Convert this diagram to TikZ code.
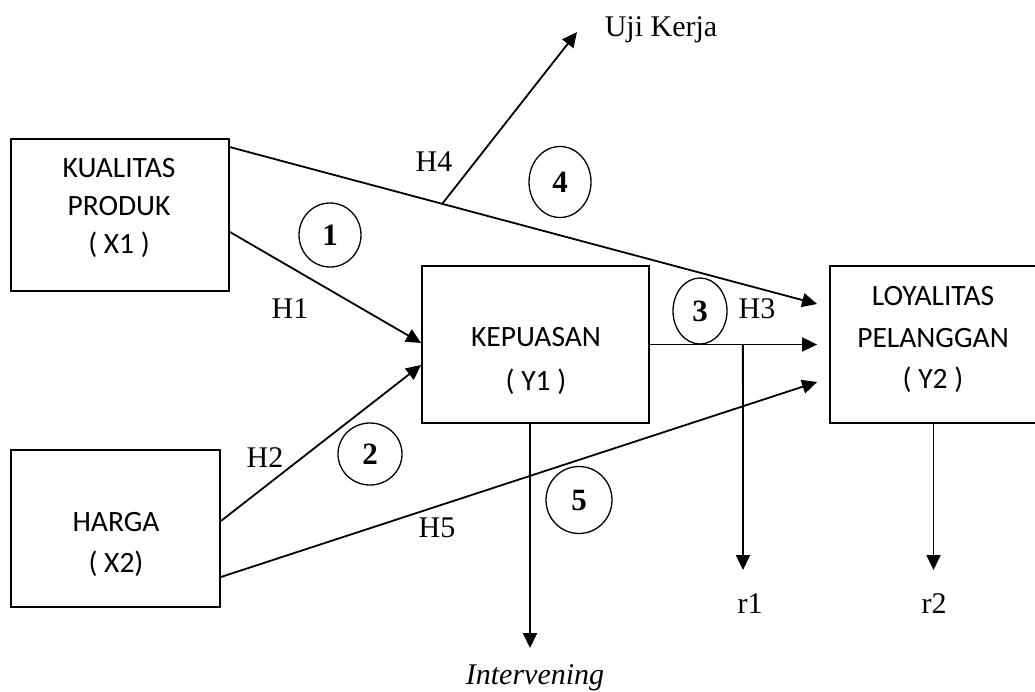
\documentclass[tikz,border=0pt]{standalone}
\usepackage{fontspec}
\setmainfont{Liberation Serif}
\newfontfamily\boxfont{Carlito}
\usetikzlibrary{arrows.meta,shapes.geometric}
\begin{document}
\begin{tikzpicture}[x=1pt,y=-1pt,
  box/.style={draw, line width=1.8pt, inner sep=0pt},
  boxtext/.style={font=\boxfont\fontsize{29.5}{#1}\selectfont, align=center, anchor=north, inner sep=0pt},
  lbl/.style={font=\fontsize{30}{36}\selectfont, anchor=base, inner sep=0pt},
  num/.style={draw, ellipse, line width=1.3pt, inner sep=0pt, font=\bfseries\fontsize{31}{36}\selectfont},
  arr/.style={-{Triangle[length=15pt,width=14pt]}, line width=1.8pt},
  ln/.style={line width=1.8pt}
]
\useasboundingbox (0,0) rectangle (1035,692);

% boxes
\node[box, minimum width=218pt, minimum height=152pt] (kp) at (120,215) {};
\node[box, minimum width=209pt, minimum height=157pt] (hg) at (115.5,528.5) {};
\node[box, minimum width=227pt, minimum height=157pt] (kep) at (535.5,344.5) {};
\node[box, minimum width=207pt, minimum height=157pt] (loy) at (933.5,344.5) {};

% box texts
\node[boxtext=38] (kpt) at (119,158.6) {KUALITAS\\PRODUK\\( X1 )};
\node[boxtext=41] (hgt) at (116,512.6) {HARGA\\( X2)};
\node[boxtext=44] (kept) at (536,327.6) {KEPUASAN\\( Y1 )};
\node[boxtext=41.5] (loyt) at (933,286.6) {LOYALITAS\\PELANGGAN\\( Y2 )};

% connector end points
\coordinate (kpA) at ([yshift=-9pt]kp.north east);
\coordinate (kpB) at ([yshift=-17pt]kp.east);
\coordinate (hgA) at ([yshift=7.5pt]hg.east);
\coordinate (hgB) at ([yshift=-48.5pt]hg.east);
\coordinate (kepA) at ([yshift=1.5pt]kep.west);
\coordinate (kepB) at ([yshift=-20.5pt]kep.west);
\coordinate (loyA) at ([xshift=-12pt,yshift=40.5pt]loy.west);
\coordinate (loyB) at ([xshift=-12pt]loy.west);
\coordinate (loyC) at ([xshift=-12pt,yshift=-37.5pt]loy.west);
\coordinate (ukE) at (577,32);
\coordinate (r1e) at (743,570);
\coordinate (r2e) at (933.5,570);
\coordinate (intE) at (530,648);

% connectors
\draw[arr] (kpA) -- coordinate[pos=0.3616] (uk0) (loyA);
\draw[arr] (uk0) -- (ukE);
\draw[arr] (kpB) -- (kepA);
\draw[arr] (hgA) -- (kepB);
\draw[arr] (hgB) -- (loyC);
\draw[arr] (kep.east) -- coordinate[pos=0.556] (br) (loyB);
\draw[arr] (br) -- (r1e);
\draw[arr] ([xshift=-5.5pt]kep.south) -- (intE);
\draw[arr] (loy.south) -- (r2e);

% labels
\node[lbl] (ujk) at (661,37) {Uji Kerja};
\node[lbl] (h1) at (290,318) {H1};
\node[lbl] (h2) at (265,467) {H2};
\node[lbl] (h3) at (757,319) {H3};
\node[lbl] (h4) at (434,172) {H4};
\node[lbl] (h5) at (437,537) {H5};
\node[lbl] (r1) at (750,613) {r1};
\node[lbl] (r2) at (934,613) {r2};
\node[lbl] (intv) at (535,684) {\itshape Intervening};

% numbered circles
\node[num, minimum width=62pt, minimum height=64pt] (c1) at (330,235) {1};
\node[num, minimum width=64pt, minimum height=62pt] (c2) at (370,454) {2};
\node[num, minimum width=54pt, minimum height=66pt] (c3) at (700,311) {3};
\node[num, minimum width=62pt, minimum height=71pt] (c4) at (560,182) {4};
\node[num, minimum width=66pt, minimum height=67pt] (c5) at (579,500) {5};
\end{tikzpicture}
\end{document}
